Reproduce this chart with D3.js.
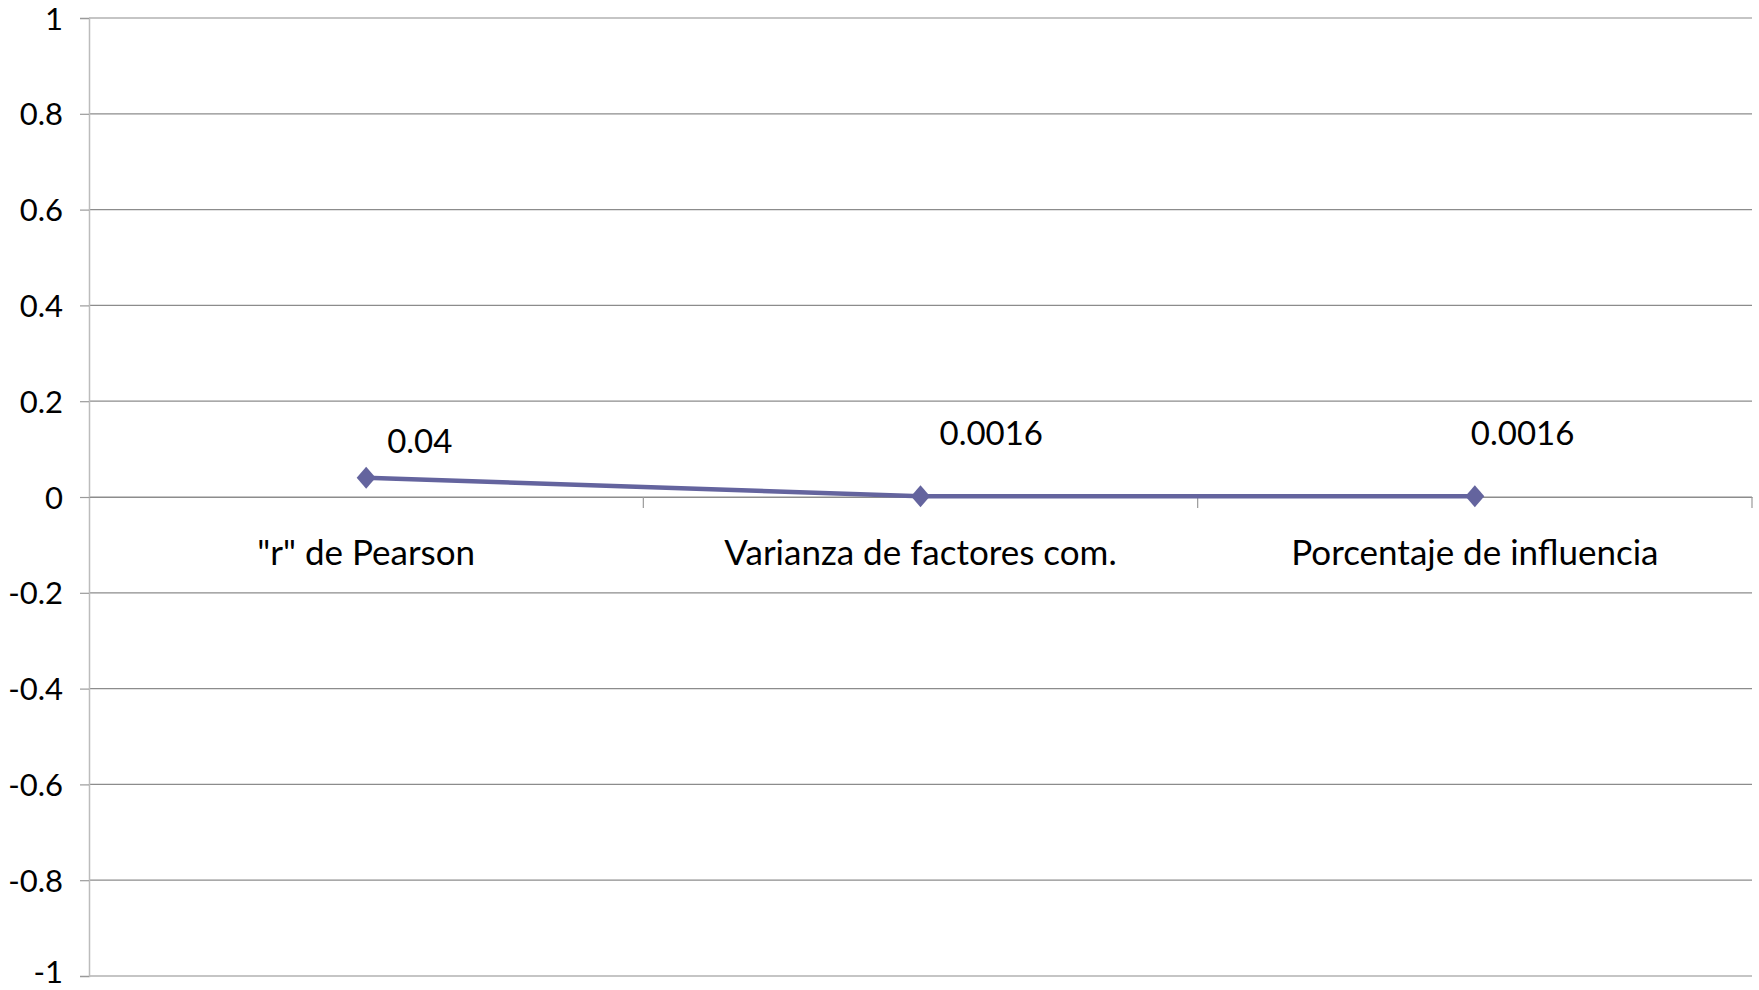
<!DOCTYPE html>
<html>
<head>
  <meta charset="utf-8">
  <script src="https://d3js.org/d3.v7.min.js"></script>
  <style>
    body { margin: 0; background: #fff; }
    text { font-family: Lato, "Open Sans", sans-serif; fill: #000; }
  </style>
</head>
<body>
  <div id="chart"></div>
  <script>
    // data
    var categories = ["\"r\" de Pearson", "Varianza de factores com.", "Porcentaje de influencia"];
    var values = [0.04, 0.0016, 0.0016];
    var valueLabels = ["0.04", "0.0016", "0.0016"];
    var yTicks = [1, 0.8, 0.6, 0.4, 0.2, 0, -0.2, -0.4, -0.6, -0.8, -1];

    // layout
    var W = 1759, H = 990;
    var margin = { top: 18, right: 7, bottom: 14, left: 89 };
    var width = W - margin.left - margin.right,
        height = H - margin.top - margin.bottom;
    // hand-placed label offsets (like the original)
    var labelDx = [21, 19, -4];
    var labelDy = [-25, -51, -51];

    var svg = d3.select("#chart").append("svg")
      .attr("width", W).attr("height", H)
      .append("g")
      .attr("transform", "translate(" + margin.left + "," + margin.top + ")");

    var x = d3.scaleBand().domain(categories).range([0, width]);
    var y = d3.scaleLinear().domain([-1, 1]).range([height, 0]);

    // gridlines
    svg.selectAll(".grid").data(yTicks).enter().append("line")
      .attr("x1", 0).attr("x2", width)
      .attr("y1", function (d) { return y(d); })
      .attr("y2", function (d) { return y(d); })
      .attr("stroke", "#8c8c8c").attr("stroke-width", 1.2);

    // y axis
    var yAxis = svg.append("g")
      .call(d3.axisLeft(y).tickValues(yTicks).tickSize(9).tickPadding(17)
        .tickFormat(function (d) { return d3.format("")(d).replace("−", "-"); }));
    yAxis.select(".domain").attr("stroke", "#bcbcbc").attr("stroke-width", 1.5);
    yAxis.selectAll(".tick line").attr("stroke", "#9a9a9a").attr("stroke-width", 1.2);
    yAxis.selectAll(".tick text").style("font-size", "31px").attr("fill", "#000")
      .attr("dy", function (d) { return d === -1 ? "0.2em" : "0.36em"; });

    // x axis at zero
    var xAxis = svg.append("g")
      .attr("transform", "translate(0," + y(0) + ")")
      .call(d3.axisBottom(x).tickSize(0));
    xAxis.select(".domain").attr("stroke", "#8c8c8c").attr("stroke-width", 1.2);
    xAxis.selectAll(".tick text").style("font-size", "35px").attr("fill", "#000")
      .attr("y", 68).attr("dy", 0);

    // category ticks between bands
    var bounds = categories.map(function (c) { return x(c) + x.bandwidth(); });
    svg.selectAll(".ctick").data(bounds).enter().append("line")
      .attr("x1", function (d) { return d; }).attr("x2", function (d) { return d; })
      .attr("y1", y(0)).attr("y2", y(0) + 11)
      .attr("stroke", "#9a9a9a").attr("stroke-width", 1.2);

    var pts = categories.map(function (c, i) {
      return { cat: c, value: values[i], label: valueLabels[i], i: i };
    });
    var cx = function (d) { return x(d.cat) + x.bandwidth() / 2; };

    // line
    var line = d3.line().x(cx).y(function (d) { return y(d.value); });
    svg.append("path").datum(pts)
      .attr("d", line)
      .attr("fill", "none")
      .attr("stroke", "#64649e")
      .attr("stroke-width", 4.5);

    // diamond markers
    svg.selectAll(".marker").data(pts).enter().append("path")
      .attr("d", "M0,-11L9.5,0L0,11L-9.5,0Z")
      .attr("transform", function (d) { return "translate(" + cx(d) + "," + y(d.value) + ")"; })
      .attr("fill", "#64649e");

    // data labels
    svg.selectAll(".vlabel").data(pts).enter().append("text")
      .attr("x", function (d) { return cx(d) + labelDx[d.i]; })
      .attr("y", function (d) { return y(d.value) + labelDy[d.i]; })
      .style("font-size", "33px")
      .text(function (d) { return d.label; });
  </script>
</body>
</html>
